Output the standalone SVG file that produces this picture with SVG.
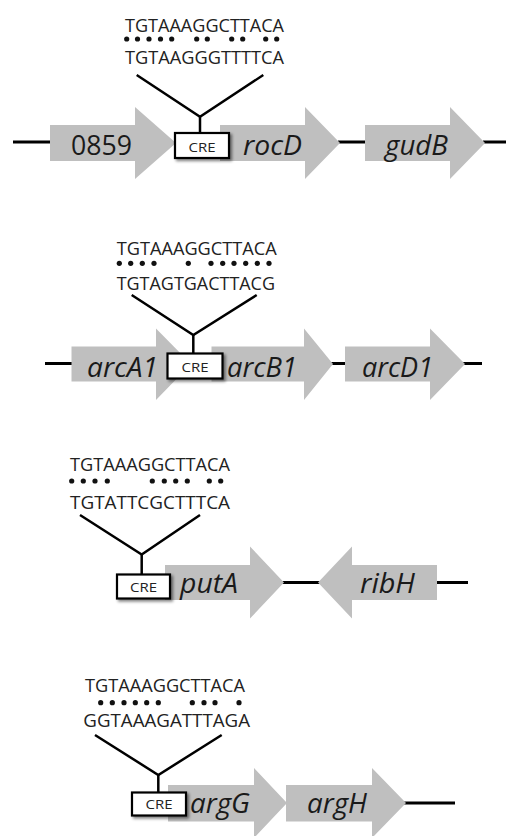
<svg xmlns="http://www.w3.org/2000/svg" width="506" height="836" viewBox="0 0 506 836">
<style>
.gene{fill:#bfbfbf;stroke:none}
.dna{stroke:#000;stroke-width:3;fill:none}
.conn{stroke:#000;stroke-width:2.5;fill:none;stroke-linejoin:miter}
.cre{fill:#fff;stroke:#000;stroke-width:2.2}
.lbl{font-family:"Open Sans","DejaVu Sans",sans-serif;font-style:italic;font-size:28px;fill:#1a1a1a}
.num{font-family:"Open Sans","DejaVu Sans",sans-serif;font-size:28px;fill:#1a1a1a}
.seq{font-family:"Open Sans","DejaVu Sans",sans-serif;font-size:18px;fill:#222}
.cret{font-family:"Open Sans","DejaVu Sans",sans-serif;font-size:13.5px;fill:#222;text-anchor:middle}
.dot{fill:#111}
</style>
<defs>
<filter id="sh" x="-20%" y="-30%" width="150%" height="170%">
<feGaussianBlur in="SourceAlpha" stdDeviation="1.5"/>
<feOffset dx="2" dy="2" result="b"/>
<feComponentTransfer><feFuncA type="linear" slope="0.5"/></feComponentTransfer>
<feMerge><feMergeNode/><feMergeNode in="SourceGraphic"/></feMerge>
</filter>
</defs>
<rect width="506" height="836" fill="#fff"/>

<!-- DNA backbone lines -->
<g id="backbone">
<line class="dna" x1="13" y1="142" x2="52" y2="142"/>
<line class="dna" x1="338" y1="142" x2="367" y2="142"/>
<line class="dna" x1="483" y1="142" x2="506" y2="142"/>
<line class="dna" x1="45" y1="363.5" x2="73" y2="363.5"/>
<line class="dna" x1="331" y1="363.5" x2="347" y2="363.5"/>
<line class="dna" x1="463" y1="363.5" x2="482" y2="363.5"/>
<line class="dna" x1="282" y1="582.5" x2="320" y2="582.5"/>
<line class="dna" x1="435" y1="582.5" x2="468" y2="582.5"/>
<line class="dna" x1="404" y1="803" x2="455" y2="803"/>
</g>

<!-- genes -->
<g id="gene-0859"><polygon class="gene" points="50,125 135,125 135,107 176,143 135,179 135,161 50,161"/><text class="num" x="71" y="155" textLength="61" lengthAdjust="spacingAndGlyphs">0859</text></g>
<g id="gene-rocD"><polygon class="gene" points="220,125 305,125 305,107 340,143 305,179 305,161 220,161"/><text class="lbl" x="243" y="155" textLength="59" lengthAdjust="spacingAndGlyphs">rocD</text></g>
<g id="gene-gudB"><polygon class="gene" points="365,125 450,125 450,107 485,143 450,179 450,161 365,161"/><text class="lbl" x="385" y="155" textLength="63" lengthAdjust="spacingAndGlyphs">gudB</text></g>

<g id="gene-arcA1"><polygon class="gene" points="71.5,346.5 156,346.5 156,328.5 191,364 156,400 156,381.5 71.5,381.5"/><text class="lbl" x="87" y="377" textLength="71" lengthAdjust="spacingAndGlyphs">arcA1</text></g>
<g id="gene-arcB1"><polygon class="gene" points="211.5,346.5 304,346.5 304,328.5 333,364 304,400 304,381.5 211.5,381.5"/><text class="lbl" x="227" y="377" textLength="70" lengthAdjust="spacingAndGlyphs">arcB1</text></g>
<g id="gene-arcD1"><polygon class="gene" points="345,346.5 430,346.5 430,328.5 465,364 430,400 430,381.5 345,381.5"/><text class="lbl" x="362" y="377" textLength="71" lengthAdjust="spacingAndGlyphs">arcD1</text></g>

<g id="gene-putA"><polygon class="gene" points="165,565 250,565 250,546.5 284,582.5 250,618.5 250,600 165,600"/><text class="lbl" x="180" y="593" textLength="58" lengthAdjust="spacingAndGlyphs">putA</text></g>
<g id="gene-ribH"><polygon class="gene" points="437,565 352,565 352,546.5 318,582.5 352,618.5 352,600 437,600"/><text class="lbl" x="360" y="593" textLength="55" lengthAdjust="spacingAndGlyphs">ribH</text></g>

<g id="gene-argG"><polygon class="gene" points="168,785 254,785 254,768 287,803 254,838 254,821.5 168,821.5"/><text class="lbl" x="190" y="813" textLength="60" lengthAdjust="spacingAndGlyphs">argG</text></g>
<g id="gene-argH"><polygon class="gene" points="286,785 372,785 372,768 406,803 372,838 372,821.5 286,821.5"/><text class="lbl" x="307" y="813" textLength="60" lengthAdjust="spacingAndGlyphs">argH</text></g>

<!-- connectors -->
<g id="connectors">
<polyline class="conn" points="136.7,75 200,116.7 263.3,75"/>
<line class="conn" x1="200" y1="116.7" x2="200" y2="133"/>
<polyline class="conn" points="131.7,295 193.3,335 256.7,295"/>
<line class="conn" x1="193.3" y1="335" x2="193.3" y2="353.5"/>
<polyline class="conn" points="80,515 141.7,554.5 200,515"/>
<line class="conn" x1="141.7" y1="554.5" x2="141.7" y2="574.5"/>
<polyline class="conn" points="95,735 158.3,775 221.7,735"/>
<line class="conn" x1="158.3" y1="775" x2="158.3" y2="792.5"/>
</g>

<!-- CRE boxes -->
<g id="cre-1"><rect class="cre" x="175" y="133" width="54" height="25" filter="url(#sh)"/><text class="cret" x="202" y="151.5" textLength="27" lengthAdjust="spacingAndGlyphs">CRE</text></g>
<g id="cre-2"><rect class="cre" x="167.5" y="353.5" width="55" height="25" filter="url(#sh)"/><text class="cret" x="195" y="372" textLength="27" lengthAdjust="spacingAndGlyphs">CRE</text></g>
<g id="cre-3"><rect class="cre" x="117" y="574.5" width="53" height="24" filter="url(#sh)"/><text class="cret" x="143.5" y="592" textLength="27" lengthAdjust="spacingAndGlyphs">CRE</text></g>
<g id="cre-4"><rect class="cre" x="132" y="792.5" width="54" height="23" filter="url(#sh)"/><text class="cret" x="159" y="809" textLength="27" lengthAdjust="spacingAndGlyphs">CRE</text></g>

<!-- sequence alignments -->
<g id="seq-1">
<text class="seq" x="125" y="31.7" textLength="159" lengthAdjust="spacingAndGlyphs">TGTAAAGGCTTACA</text>
<g class="dot"><circle cx="126.7" cy="39" r="2.6"/><circle cx="137.5" cy="39" r="2.6"/><circle cx="149" cy="39" r="2.6"/><circle cx="160.5" cy="39" r="2.6"/><circle cx="171.7" cy="39" r="2.6"/><circle cx="196.7" cy="39" r="2.6"/><circle cx="207.3" cy="39" r="2.6"/><circle cx="231.7" cy="39" r="2.6"/><circle cx="242.7" cy="39" r="2.6"/><circle cx="265.7" cy="39" r="2.6"/><circle cx="276.7" cy="39" r="2.6"/></g>
<text class="seq" x="125" y="64.3" textLength="159" lengthAdjust="spacingAndGlyphs">TGTAAGGGTTTTCA</text>
</g>
<g id="seq-2">
<text class="seq" x="116.7" y="255" textLength="160" lengthAdjust="spacingAndGlyphs">TGTAAAGGCTTACA</text>
<g class="dot"><circle cx="119.3" cy="263.3" r="2.6"/><circle cx="130.7" cy="263.3" r="2.6"/><circle cx="142.3" cy="263.3" r="2.6"/><circle cx="154" cy="263.3" r="2.6"/><circle cx="188.3" cy="263.3" r="2.6"/><circle cx="211" cy="263.3" r="2.6"/><circle cx="222.7" cy="263.3" r="2.6"/><circle cx="234" cy="263.3" r="2.6"/><circle cx="245.7" cy="263.3" r="2.6"/><circle cx="257.3" cy="263.3" r="2.6"/><circle cx="269" cy="263.3" r="2.6"/></g>
<text class="seq" x="116.7" y="290" textLength="158.3" lengthAdjust="spacingAndGlyphs">TGTAGTGACTTACG</text>
</g>
<g id="seq-3">
<text class="seq" x="70" y="470.5" textLength="160" lengthAdjust="spacingAndGlyphs">TGTAAAGGCTTACA</text>
<g class="dot"><circle cx="71.7" cy="481" r="2.6"/><circle cx="83.3" cy="481" r="2.6"/><circle cx="95" cy="481" r="2.6"/><circle cx="107.3" cy="481" r="2.6"/><circle cx="152.3" cy="481" r="2.6"/><circle cx="164.3" cy="481" r="2.6"/><circle cx="175.7" cy="481" r="2.6"/><circle cx="187.3" cy="481" r="2.6"/><circle cx="209.3" cy="481" r="2.6"/><circle cx="220.7" cy="481" r="2.6"/></g>
<text class="seq" x="70" y="509.3" textLength="160" lengthAdjust="spacingAndGlyphs">TGTATTCGCTTTCA</text>
</g>
<g id="seq-4">
<text class="seq" x="85" y="691.7" textLength="160" lengthAdjust="spacingAndGlyphs">TGTAAAGGCTTACA</text>
<g class="dot"><circle cx="100.7" cy="702.7" r="2.6"/><circle cx="112.3" cy="702.7" r="2.6"/><circle cx="124" cy="702.7" r="2.6"/><circle cx="135.3" cy="702.7" r="2.6"/><circle cx="146.7" cy="702.7" r="2.6"/><circle cx="158.3" cy="702.7" r="2.6"/><circle cx="192.3" cy="702.7" r="2.6"/><circle cx="204" cy="702.7" r="2.6"/><circle cx="215" cy="702.7" r="2.6"/><circle cx="239" cy="702.7" r="2.6"/></g>
<text class="seq" x="83.3" y="726.7" textLength="166.7" lengthAdjust="spacingAndGlyphs">GGTAAAGATTTAGA</text>
</g>
</svg>
